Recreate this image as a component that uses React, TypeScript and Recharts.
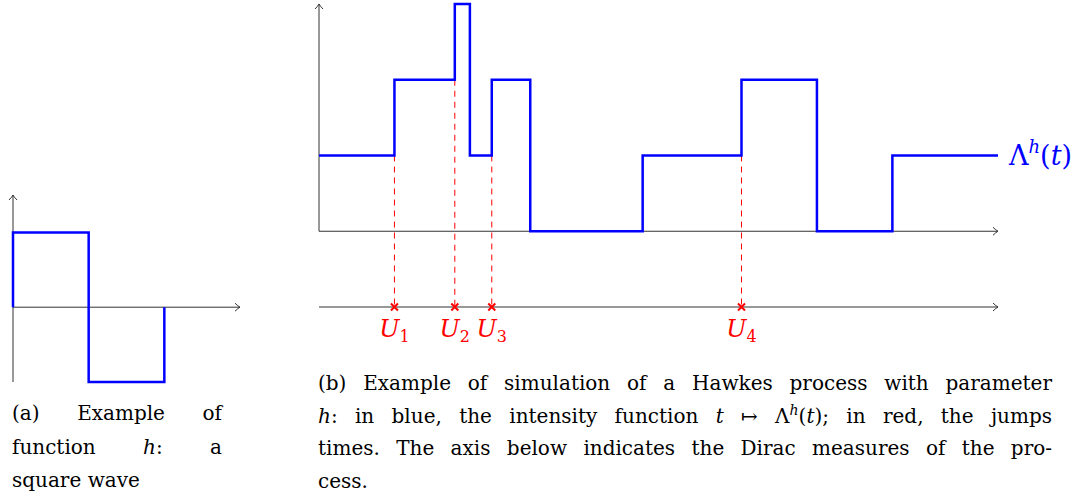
import { LineChart, Line, XAxis, YAxis, ReferenceLine, ReferenceDot } from "recharts";

// (a) square wave h
const squareX = [0, 0, 1, 2, 2];
const squareY = [0, 1, -1, -1, 0];

// (b) Hawkes intensity, step changes
const hawkesT = [0, 1.0, 1.8, 2.0, 2.29, 2.8, 4.29, 5.6, 6.6, 7.6, 9.0];
const hawkesLevel = [1, 2, 3, 1, 2, 0, 1, 2, 0, 1, 1];

// jump times U_i and level just before each jump
const jumpTimes = [1.0, 1.8, 2.29, 5.6];
const jumpFrom = [1, 2, 1, 1];
const jumpLabels = ["1", "2", "3", "4"];

const squareData = squareX.map((x, i) => ({ x, y: squareY[i] }));
const hawkesData = hawkesT.map((t, i) => ({ t, y: hawkesLevel[i] }));

const BLUE = "#0000ff";
const RED = "#ff0000";
const AXIS = "#333";
const SERIF = "DejaVu Serif";

const ArrowRight = (props: any) => {
  const { cx, cy } = props;
  return (
    <path
      d={`M${cx - 5},${cy - 4} Q${cx - 2},${cy - 1} ${cx},${cy} Q${cx - 2},${cy + 1} ${cx - 5},${cy + 4}`}
      fill="none"
      stroke={AXIS}
      strokeWidth={1}
    />
  );
};

const ArrowUp = (props: any) => {
  const { cx, cy } = props;
  return (
    <path
      d={`M${cx - 4},${cy + 5} Q${cx - 1},${cy + 2} ${cx},${cy} Q${cx + 1},${cy + 2} ${cx + 4},${cy + 5}`}
      fill="none"
      stroke={AXIS}
      strokeWidth={1}
    />
  );
};

const JumpMark = (label: string) => (props: any) => {
  const { cx, cy } = props;
  return (
    <g>
      <path
        d={`M${cx - 3.5},${cy - 3.5} L${cx + 3.5},${cy + 3.5} M${cx - 3.5},${cy + 3.5} L${cx + 3.5},${cy - 3.5}`}
        stroke={RED}
        strokeWidth={2}
      />
      <text x={cx} y={cy + 30} fill={RED} fontFamily={SERIF} fontSize={24} textAnchor="middle">
        <tspan fontStyle="italic">U</tspan>
        <tspan fontSize={16} dy={5}>{label}</tspan>
      </text>
    </g>
  );
};

const LambdaLabel = (props: any) => {
  const { cx, cy } = props;
  return (
    <text x={cx + 11} y={cy + 9} fill={BLUE} fontFamily={SERIF} fontSize={27}>
      Λ
      <tspan fontSize={18} fontStyle="italic" dy={-12}>h</tspan>
      <tspan dy={12}>(</tspan>
      <tspan fontStyle="italic">t</tspan>)
    </text>
  );
};

const captionLine = (last: boolean): React.CSSProperties => ({
  textAlign: last ? "left" : "justify",
  textAlignLast: last ? "left" : "justify",
  whiteSpace: "nowrap",
});

const App = () => (
  <div style={{ position: "absolute", left: 0, top: 0, width: 1080, height: 501, background: "#fff" }}>
    <div style={{ position: "absolute", left: 0, top: 0 }}>
      <LineChart width={260} height={400} data={squareData} margin={{ top: 195, left: 13, right: 20, bottom: 18 }}>
        <XAxis dataKey="x" type="number" domain={[0, 3]} hide />
        <YAxis type="number" domain={[-1, 1.5]} hide />
        <ReferenceLine segment={[{ x: 0, y: 0 }, { x: 3, y: 0 }]} stroke={AXIS} strokeWidth={1} ifOverflow="visible" />
        <ReferenceLine segment={[{ x: 0, y: -1 }, { x: 0, y: 1.5 }]} stroke={AXIS} strokeWidth={1} ifOverflow="visible" />
        <ReferenceDot x={3} y={0} shape={ArrowRight} ifOverflow="visible" />
        <ReferenceDot x={0} y={1.5} shape={ArrowUp} ifOverflow="visible" />
        <Line dataKey="y" type="stepAfter" stroke={BLUE} strokeWidth={2.5} dot={false} isAnimationActive={false} />
      </LineChart>
    </div>

    <div style={{ position: "absolute", left: 300, top: 0 }}>
      <LineChart width={780} height={501} data={hawkesData} margin={{ top: 4, left: 19, right: 82, bottom: 194 }}>
        <XAxis dataKey="t" type="number" domain={[0, 9]} hide />
        <YAxis type="number" domain={[-1, 3]} hide />
        <ReferenceLine segment={[{ x: 0, y: 0 }, { x: 9, y: 0 }]} stroke={AXIS} strokeWidth={1} ifOverflow="visible" />
        <ReferenceLine segment={[{ x: 0, y: 0 }, { x: 0, y: 3 }]} stroke={AXIS} strokeWidth={1} ifOverflow="visible" />
        <ReferenceLine segment={[{ x: 0, y: -1 }, { x: 9, y: -1 }]} stroke={AXIS} strokeWidth={1} ifOverflow="visible" />
        <ReferenceDot x={9} y={0} shape={ArrowRight} ifOverflow="visible" />
        <ReferenceDot x={9} y={-1} shape={ArrowRight} ifOverflow="visible" />
        <ReferenceDot x={0} y={3} shape={ArrowUp} ifOverflow="visible" />
        {jumpTimes.map((u, i) => (
          <ReferenceLine
            key={`d${i}`}
            segment={[{ x: u, y: jumpFrom[i] }, { x: u, y: -1 }]}
            stroke={RED}
            strokeWidth={1}
            strokeDasharray="6 5"
            ifOverflow="visible"
          />
        ))}
        <Line dataKey="y" type="stepAfter" stroke={BLUE} strokeWidth={2.5} dot={false} isAnimationActive={false} />
        {jumpTimes.map((u, i) => (
          <ReferenceDot key={`m${i}`} x={u} y={-1} shape={JumpMark(jumpLabels[i])} ifOverflow="visible" />
        ))}
        <ReferenceDot x={9} y={1} shape={LambdaLabel} ifOverflow="visible" />
      </LineChart>
    </div>

    <div
      style={{
        position: "absolute",
        left: 12,
        top: 397,
        width: 210,
        fontFamily: SERIF,
        fontSize: 20,
        lineHeight: "33.5px",
        color: "#000",
      }}
    >
      <div style={captionLine(false)}>(a) Example of</div>
      <div style={captionLine(false)}>
        function <i>h</i>: a
      </div>
      <div style={captionLine(true)}>square wave</div>
    </div>

    <div
      style={{
        position: "absolute",
        left: 318,
        top: 367,
        width: 734,
        fontFamily: SERIF,
        fontSize: 20,
        lineHeight: "32.7px",
        color: "#000",
      }}
    >
      <div style={captionLine(false)}>(b) Example of simulation of a Hawkes process with parameter</div>
      <div style={captionLine(false)}>
        <i>h</i>: in blue, the intensity function <i>t</i> ↦ Λ<sup style={{ fontSize: 14, fontStyle: "italic", lineHeight: 0 }}>h</sup>(<i>t</i>); in red, the jumps
      </div>
      <div style={captionLine(false)}>times. The axis below indicates the Dirac measures of the pro-</div>
      <div style={captionLine(true)}>cess.</div>
    </div>
  </div>
);

export default App;
